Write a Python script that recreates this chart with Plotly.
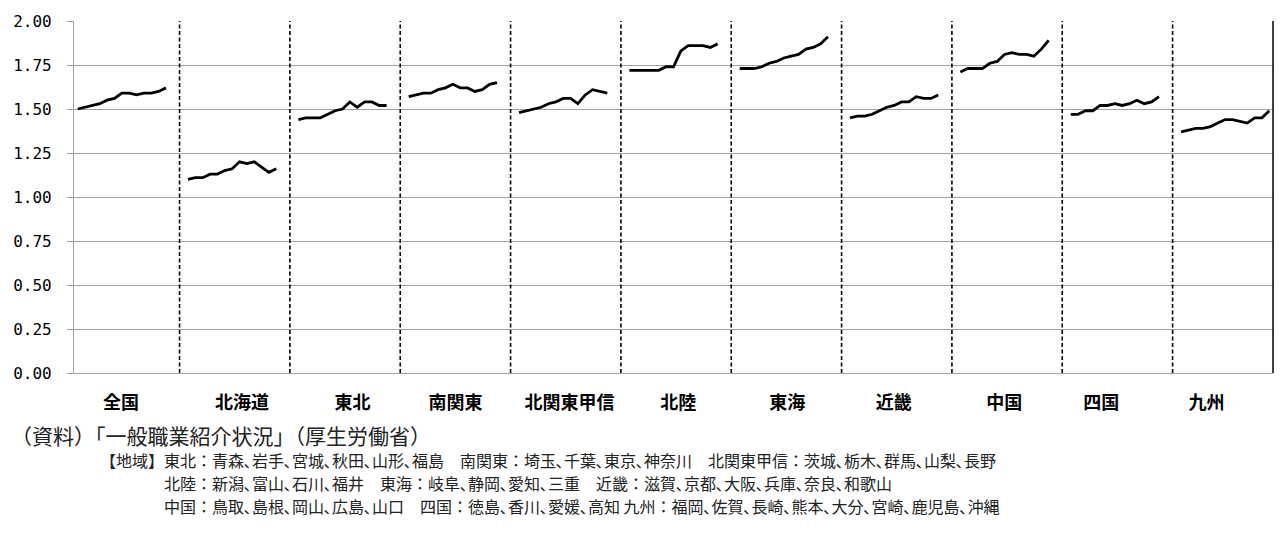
import plotly.graph_objects as go

# Regional job openings-to-applicants ratios, 13 monthly points per region
regions = ["全国", "北海道", "東北", "南関東", "北関東甲信", "北陸",
           "東海", "近畿", "中国", "四国", "九州"]

zenkoku     = [1.50, 1.51, 1.52, 1.53, 1.55, 1.56, 1.59, 1.59, 1.58, 1.59, 1.59, 1.60, 1.62]
hokkaido    = [1.10, 1.11, 1.11, 1.13, 1.13, 1.15, 1.16, 1.20, 1.19, 1.20, 1.17, 1.14, 1.16]
tohoku      = [1.44, 1.45, 1.45, 1.45, 1.47, 1.49, 1.50, 1.54, 1.51, 1.54, 1.54, 1.52, 1.52]
minami_kanto = [1.57, 1.58, 1.59, 1.59, 1.61, 1.62, 1.64, 1.62, 1.62, 1.60, 1.61, 1.64, 1.65]
kita_kanto  = [1.48, 1.49, 1.50, 1.51, 1.53, 1.54, 1.56, 1.56, 1.53, 1.58, 1.61, 1.60, 1.59]
hokuriku    = [1.72, 1.72, 1.72, 1.72, 1.72, 1.74, 1.74, 1.83, 1.86, 1.86, 1.86, 1.85, 1.87]
tokai       = [1.73, 1.73, 1.73, 1.74, 1.76, 1.77, 1.79, 1.80, 1.81, 1.84, 1.85, 1.87, 1.91]
kinki       = [1.45, 1.46, 1.46, 1.47, 1.49, 1.51, 1.52, 1.54, 1.54, 1.57, 1.56, 1.56, 1.58]
chugoku     = [1.71, 1.73, 1.73, 1.73, 1.76, 1.77, 1.81, 1.82, 1.81, 1.81, 1.80, 1.84, 1.89]
shikoku     = [1.47, 1.47, 1.49, 1.49, 1.52, 1.52, 1.53, 1.52, 1.53, 1.55, 1.53, 1.54, 1.57]
kyushu      = [1.37, 1.38, 1.39, 1.39, 1.40, 1.42, 1.44, 1.44, 1.43, 1.42, 1.45, 1.45, 1.49]

series = [zenkoku, hokkaido, tohoku, minami_kanto, kita_kanto, hokuriku,
          tokai, kinki, chugoku, shikoku, kyushu]

y_ticks = [0.00, 0.25, 0.50, 0.75, 1.00, 1.25, 1.50, 1.75, 2.00]

source_text = "（資料）「一般職業紹介状況」（厚生労働省）"
note_lines = [
    "【地域】東北：青森､岩手､宮城､秋田､山形､福島　南関東：埼玉､千葉､東京､神奈川　北関東甲信：茨城､栃木､群馬､山梨､長野",
    "　　　　北陸：新潟､富山､石川､福井　東海：岐阜､静岡､愛知､三重　近畿：滋賀､京都､大阪､兵庫､奈良､和歌山",
    "　　　　中国：鳥取､島根､岡山､広島､山口　四国：徳島､香川､愛媛､高知 九州：福岡､佐賀､長崎､熊本､大分､宮崎､鹿児島､沖縄",
]

SLOTS = 15            # slots per region group (13 months + spacing)
N_POINTS = 13
X_MIN, X_MAX = -0.5, SLOTS * (len(regions) - 1) + N_POINTS - 0.5

W, H = 1285, 544
M_L, M_R, M_T, M_B = 74, 12, 17, 171
PW, PH = W - M_L - M_R, H - M_T - M_B

JP = "Noto Sans CJK JP"

fig = go.Figure()

for k, vals in enumerate(series):
    xs = [SLOTS * k + j for j in range(len(vals))]
    fig.add_trace(go.Scatter(
        x=xs, y=vals, mode="lines",
        line=dict(color="black", width=2.8),
        showlegend=False, hoverinfo="skip",
    ))

# dashed separators between region groups
divider_x = [SLOTS * k - 1.15 for k in range(1, len(regions))]
shapes = []
for dx in divider_x:
    shapes.append(dict(type="line", xref="x", yref="paper", x0=dx, x1=dx, y0=0, y1=1,
                       line=dict(color="black", width=1.6, dash="4px,2.5px")))
# right border of plot area
shapes.append(dict(type="line", xref="paper", yref="paper", x0=1, x1=1, y0=0, y1=1,
                   line=dict(color="black", width=1.5)))

# region labels roughly centred between separators (small hand nudges, in slots)
bounds = [X_MIN] + divider_x + [X_MAX]
label_nudge = [-0.8, 1.0, 1.0, 0.0, 0.5, 0.3, 0.1, -0.4, -0.4, -2.2, -2.2]
label_x = [(bounds[i] + bounds[i + 1]) / 2 + label_nudge[i] for i in range(len(regions))]


def px_to_paper_x(px):
    return (px - M_L) / PW


def px_to_paper_y(py):
    return (H - M_B - py) / PH


annotations = [
    dict(text=source_text, xref="paper", yref="paper",
         x=px_to_paper_x(9), y=px_to_paper_y(436), xanchor="left", yanchor="middle",
         showarrow=False, font=dict(family=JP, size=21, color="#222222")),
]
note_y = [461, 484.5, 508]
for line, py in zip(note_lines, note_y):
    annotations.append(dict(
        text=line, xref="paper", yref="paper",
        x=px_to_paper_x(98), y=px_to_paper_y(py), xanchor="left", yanchor="middle",
        showarrow=False, font=dict(family=JP, size=16, color="#222222")))

fig.update_layout(
    width=W, height=H,
    margin=dict(l=M_L, r=M_R, t=M_T, b=M_B),
    paper_bgcolor="white", plot_bgcolor="white",
    shapes=shapes, annotations=annotations,
    xaxis=dict(
        range=[X_MIN, X_MAX], tickmode="array", tickvals=label_x, ticktext=regions,
        showgrid=False, zeroline=False, showline=True, linecolor="#a0a0a0", linewidth=1.2,
        ticks="", ticklabelstandoff=13,
        tickfont=dict(family=JP, size=18, color="black", weight="bold"),
    ),
    yaxis=dict(
        range=[0, 2], tickmode="array", tickvals=y_ticks,
        ticktext=[f"{v:.2f}" for v in y_ticks],
        showgrid=True, gridcolor="#a0a0a0", gridwidth=1.2, zeroline=False,
        showline=True, linecolor="#a0a0a0", linewidth=1.2,
        ticks="outside", ticklen=6, tickcolor="#a0a0a0", tickwidth=1.2,
        ticklabelstandoff=12,
        tickfont=dict(family="DejaVu Sans Mono", size=16, color="black"),
    ),
)

fig.write_html("out.html")
